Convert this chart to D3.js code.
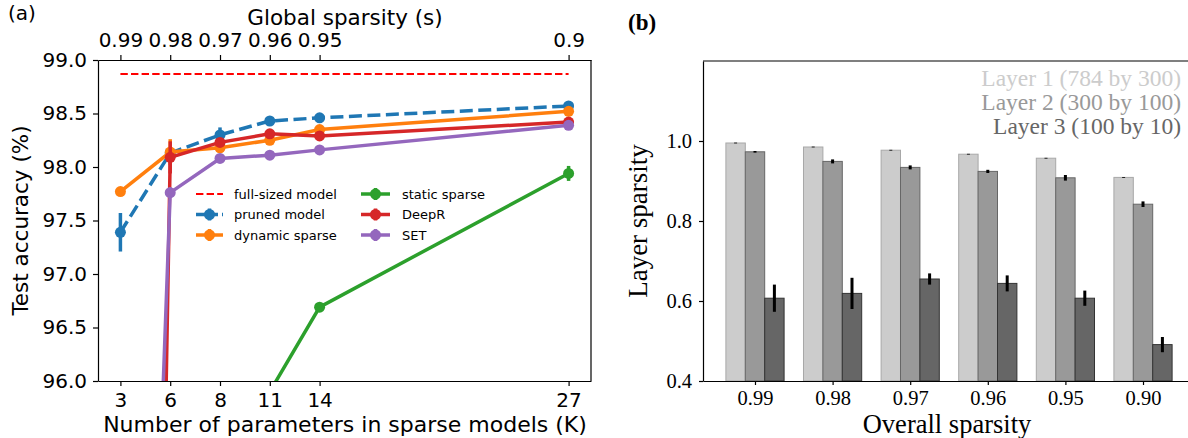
<!DOCTYPE html>
<html>
<head>
<meta charset="utf-8">
<script src="https://cdn.jsdelivr.net/npm/d3@7"></script>
<style>
  body { margin: 0; background: #fff; }
  svg { display: block; }
</style>
</head>
<body>
<svg id="chart" width="1188" height="438"></svg>
<script>
// ######## data, panel (a)
const sparsity = [0.99, 0.98, 0.97, 0.96, 0.95, 0.90];
const sparsityLabels = ["0.99", "0.98", "0.97", "0.96", "0.95", "0.9"];
const paramsK = ["3", "6", "8", "11", "14", "27"];
const fullSized = 98.87;

const pruned = [97.39, 98.13, 98.30, 98.43, 98.46, 98.57];
const prunedErr = [0.18, 0.03, 0.07, 0.02, 0.03, 0.03];
const dynamicSparse = [97.77, 98.14, 98.18, 98.25, 98.35, 98.52];
const dynamicErr = [0.02, 0.12, 0.03, 0.03, 0.02, 0.02];
const staticSparse = [90.0, 93.0, 95.0, 95.9, 96.69, 97.94];
const staticErr = [0.3, 0.2, 0.1, 0.05, 0.02, 0.07];
const deepR = [72.0, 98.09, 98.23, 98.31, 98.29, 98.42];
const deepRErr = [0.5, 0.15, 0.04, 0.04, 0.03, 0.03];
const setModel = [85.0, 97.76, 98.08, 98.11, 98.16, 98.39];
const setErr = [0.5, 0.05, 0.04, 0.04, 0.02, 0.04];

// ######## data, panel (b)
const overallLabels = ["0.99", "0.98", "0.97", "0.96", "0.95", "0.90"];
const layer1 = [0.995, 0.985, 0.977, 0.967, 0.957, 0.909];
const layer1Err = [0.001, 0.001, 0.001, 0.001, 0.001, 0.001];
const layer2 = [0.973, 0.949, 0.934, 0.924, 0.908, 0.842];
const layer2Err = [0.002, 0.005, 0.005, 0.004, 0.007, 0.007];
const layer3 = [0.607, 0.619, 0.655, 0.644, 0.607, 0.491];
const layer3Err = [0.034, 0.039, 0.014, 0.020, 0.019, 0.019];
const layerNames = ["Layer 1 (784 by 300)", "Layer 2 (300 by 100)", "Layer 3 (100 by 10)"];

const svg = d3.select("#chart");
svg.append("rect").attr("width", 1188).attr("height", 438).attr("fill", "#fff");

// ################### panel (a) ###################
function drawPanelA() {
    const sans = "DejaVu Sans";
    const L = 98, R = 591, T = 60, B = 381;
    const x = d3.scaleLinear().domain([0.9945, 0.8955]).range([L, R]);
    const y = d3.scaleLinear().domain([96, 99]).range([B, T]);

    const g = svg.append("g");

    g.append("clipPath").attr("id", "clipA")
        .append("rect").attr("x", L).attr("y", T).attr("width", R - L).attr("height", B - T);

    // series, in legend order (first column then second)
    const series = [
        {name: "pruned model", vals: pruned, err: prunedErr, color: "#1f77b4", dash: "13,5.5"},
        {name: "dynamic sparse", vals: dynamicSparse, err: dynamicErr, color: "#ff7f0e", dash: null},
        {name: "static sparse", vals: staticSparse, err: staticErr, color: "#2ca02c", dash: null},
        {name: "DeepR", vals: deepR, err: deepRErr, color: "#d62728", dash: null},
        {name: "SET", vals: setModel, err: setErr, color: "#9467bd", dash: null}
    ];

    const plot = g.append("g").attr("clip-path", "url(#clipA)");

    // full-sized model reference line
    plot.append("line")
        .attr("x1", x(sparsity[0])).attr("x2", x(sparsity[sparsity.length - 1]))
        .attr("y1", y(fullSized)).attr("y2", y(fullSized))
        .attr("stroke", "#ff0000").attr("stroke-width", 2).attr("stroke-dasharray", "7.4,3.2");

    const line = d3.line().x((d, i) => x(sparsity[i])).y(d => y(d));

    series.forEach(s => {
        const sg = plot.append("g");
        sg.append("path").datum(s.vals)
            .attr("d", line)
            .attr("fill", "none")
            .attr("stroke", s.color)
            .attr("stroke-width", 3.5)
            .attr("stroke-dasharray", s.dash);
        sg.selectAll(".err").data(s.vals).join("line")
            .attr("x1", (d, i) => x(sparsity[i])).attr("x2", (d, i) => x(sparsity[i]))
            .attr("y1", (d, i) => y(d - s.err[i])).attr("y2", (d, i) => y(d + s.err[i]))
            .attr("stroke", s.color).attr("stroke-width", 3.5);
        sg.selectAll("circle").data(s.vals).join("circle")
            .attr("cx", (d, i) => x(sparsity[i])).attr("cy", d => y(d))
            .attr("r", 5.5).attr("fill", s.color);
    });

    // axes
    const bottom = g.append("g").attr("transform", `translate(0,${B})`)
        .call(d3.axisBottom(x).tickValues(sparsity).tickFormat((d, i) => paramsK[i])
            .tickSize(5).tickSizeOuter(0).tickPadding(7));
    const top = g.append("g").attr("transform", `translate(0,${T})`)
        .call(d3.axisTop(x).tickValues(sparsity).tickFormat((d, i) => sparsityLabels[i])
            .tickSize(5).tickSizeOuter(0).tickPadding(8));
    const left = g.append("g").attr("transform", `translate(${L},0)`)
        .call(d3.axisLeft(y).tickValues(d3.range(96, 99.01, 0.5)).tickFormat(d3.format(".1f"))
            .tickSize(5).tickSizeOuter(0).tickPadding(6));
    g.append("line").attr("x1", R).attr("x2", R).attr("y1", T).attr("y2", B)
        .attr("stroke", "#000").attr("stroke-width", 1.2);

    [bottom, top, left].forEach(a => {
        a.selectAll("text").attr("font-family", sans).attr("font-size", 20).attr("fill", "#000");
        a.selectAll("line,path").attr("stroke", "#000").attr("stroke-width", 1.2);
    });

    // labels
    g.append("text").attr("x", 8).attr("y", 20).text("(a)")
        .attr("font-family", sans).attr("font-size", 20);
    g.append("text").attr("x", 345).attr("y", 25).attr("text-anchor", "middle")
        .text("Global sparsity (s)").attr("font-family", sans).attr("font-size", 21.5);
    g.append("text").attr("x", 345).attr("y", 432).attr("text-anchor", "middle")
        .text("Number of parameters in sparse models (K)").attr("font-family", sans).attr("font-size", 22);
    g.append("text").attr("transform", `translate(28,${(T + B) / 2}) rotate(-90)`)
        .attr("text-anchor", "middle").text("Test accuracy (%)")
        .attr("font-family", sans).attr("font-size", 21.5);

    // legend, two columns
    const rows = [194, 214.5, 235];
    const items = [
        {name: "full-sized model", color: "#ff0000", dash: "7.4,3.2", ref: true},
        series[0], series[1], series[2], series[3], series[4]
    ];
    items.forEach((it, k) => {
        const col = Math.floor(k / 3), row = k % 3;
        const hx = col === 0 ? 196 : 361, hw = col === 0 ? 27 : 29;
        const tx = col === 0 ? 234 : 402;
        const cy = rows[row];
        const lg = g.append("g");
        if (it.ref) {
            lg.append("line").attr("x1", hx).attr("x2", hx + hw).attr("y1", cy).attr("y2", cy)
                .attr("stroke", it.color).attr("stroke-width", 2).attr("stroke-dasharray", it.dash);
        } else {
            lg.append("line").attr("x1", hx).attr("x2", hx + hw).attr("y1", cy).attr("y2", cy)
                .attr("stroke", it.color).attr("stroke-width", 3.5).attr("stroke-dasharray", it.dash ? "9,4" : null);
            lg.append("line").attr("x1", hx + hw / 2).attr("x2", hx + hw / 2).attr("y1", cy - 6).attr("y2", cy + 6)
                .attr("stroke", it.color).attr("stroke-width", 3.5);
            lg.append("circle").attr("cx", hx + hw / 2).attr("cy", cy).attr("r", 5.5).attr("fill", it.color);
        }
        lg.append("text").attr("x", tx).attr("y", cy + 4.5).text(it.name)
            .attr("font-family", sans).attr("font-size", 13).attr("fill", "#000");
    });
}

// ################### panel (b) ###################
function drawPanelB() {
    const serif = "Liberation Serif";
    const L = 703, R = 1195, T = 61, B = 381;
    const x = d3.scaleLinear().domain([-0.67, 5.67]).range([L, R]);
    const y = d3.scaleLinear().domain([0.4, 1.2]).range([B, T]);
    const bw = x(0.25) - x(0);

    const g = svg.append("g");

    const layers = [
        {vals: layer1, err: layer1Err, fill: "#cccccc", edge: "#a8a8a8", off: -0.25},
        {vals: layer2, err: layer2Err, fill: "#999999", edge: "#666666", off: 0},
        {vals: layer3, err: layer3Err, fill: "#666666", edge: "#333333", off: 0.25}
    ];

    layers.forEach(ly => {
        g.append("g").selectAll("rect").data(ly.vals).join("rect")
            .attr("x", (d, i) => x(i + ly.off) - bw / 2)
            .attr("y", d => y(d))
            .attr("width", bw)
            .attr("height", d => y(0.4) - y(d))
            .attr("fill", ly.fill)
            .attr("stroke", ly.edge)
            .attr("stroke-width", 1);
    });
    layers.forEach(ly => {
        g.append("g").selectAll("line").data(ly.vals).join("line")
            .attr("x1", (d, i) => x(i + ly.off)).attr("x2", (d, i) => x(i + ly.off))
            .attr("y1", (d, i) => y(d - ly.err[i])).attr("y2", (d, i) => y(d + ly.err[i]))
            .attr("stroke", "#000").attr("stroke-width", 3);
    });

    const bottom = g.append("g").attr("transform", `translate(0,${B})`)
        .call(d3.axisBottom(x).tickValues(d3.range(6)).tickFormat((d, i) => overallLabels[i])
            .tickSize(4).tickSizeOuter(0).tickPadding(5));
    const left = g.append("g").attr("transform", `translate(${L},0)`)
        .call(d3.axisLeft(y).tickValues([0.4, 0.6, 0.8, 1.0]).tickFormat(d3.format(".1f"))
            .tickSize(4).tickSizeOuter(0).tickPadding(7));
    g.append("line").attr("x1", L).attr("x2", R).attr("y1", T).attr("y2", T)
        .attr("stroke", "#000").attr("stroke-width", 1.2);

    [bottom, left].forEach(a => {
        a.selectAll("text").attr("font-family", serif).attr("font-size", 20.5).attr("fill", "#000");
        a.selectAll("line,path").attr("stroke", "#000").attr("stroke-width", 1.2);
    });

    g.append("text").attr("x", 628).attr("y", 30).text("(b)")
        .attr("font-family", serif).attr("font-weight", "bold").attr("font-size", 23);
    g.append("text").attr("x", 947).attr("y", 433).attr("text-anchor", "middle")
        .text("Overall sparsity").attr("font-family", serif).attr("font-size", 26.5);
    g.append("text").attr("transform", `translate(647,${(T + B) / 2}) rotate(-90)`)
        .attr("text-anchor", "middle").text("Layer sparsity")
        .attr("font-family", serif).attr("font-size", 27);

    // legend as coloured text
    layerNames.forEach((t, k) => {
        g.append("text").attr("x", 1181).attr("y", 86 + k * 24).attr("text-anchor", "end")
            .text(t).attr("fill", layers[k].fill)
            .attr("font-family", serif).attr("font-size", 23.5);
    });
}

drawPanelA();
drawPanelB();
</script>
</body>
</html>
